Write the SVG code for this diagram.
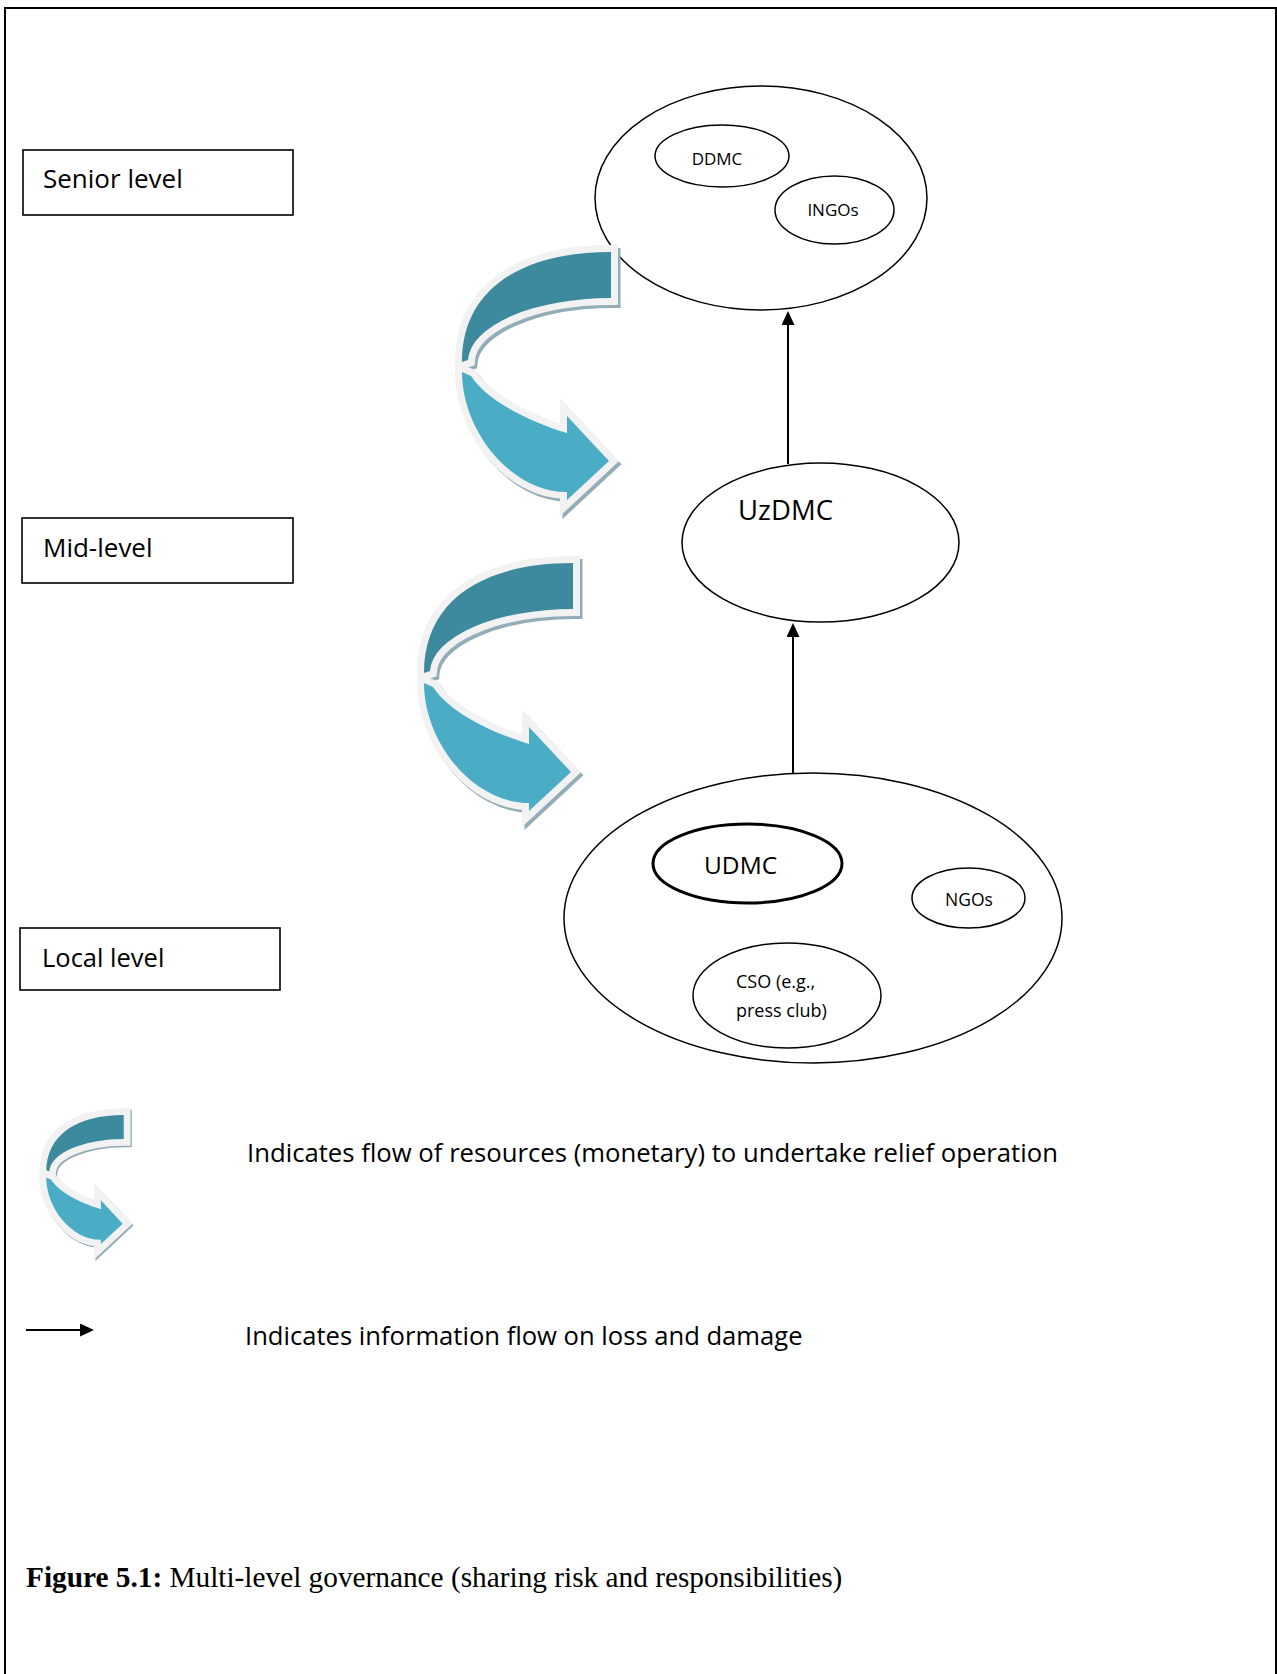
<svg xmlns="http://www.w3.org/2000/svg" xmlns:xlink="http://www.w3.org/1999/xlink" width="1277" height="1674" viewBox="0 0 1277 1674">
<style>
  .box { fill: #fff; stroke: #000; stroke-width: 1.6; }
  .ell { fill: #fff; stroke: #000; stroke-width: 1.5; }
  .ell-bold { fill: #fff; stroke: #000; stroke-width: 3; }
  .lbl { font-family: "Open Sans", "Noto Sans", sans-serif; fill: #000; }
  .conn { stroke: #000; stroke-width: 2; fill: none; }
  .cap { font-family: "Liberation Serif", "Times New Roman", serif; font-size: 29.3px; fill: #000; }
  .shadow { fill: #93ADB8; stroke: #93ADB8; }
  .dark { fill: #3D8A9F; stroke: #F2F2F2; paint-order: stroke; }
  .light { fill: #4BACC6; stroke: #F2F2F2; paint-order: stroke; }
</style>
<defs>
  <marker id="ah" markerUnits="userSpaceOnUse" markerWidth="16" markerHeight="14" refX="6" refY="6.5" orient="auto">
    <path d="M0,0 L14,6.5 L0,13 Z" fill="#000"/>
  </marker>
  <path id="darkBand" d="M611,252 C520,252 462,290 462,362 L468,360 A143,64 0 0 1 611,298 Z"/>
  <path id="lightBand" d="M462,372 C462,430 510,492 567,492 L567,500 L609,461 L567,416 L567,433 C540,425 490,405 471,376 Z"/>
  <g id="curvedArrow">
    <use xlink:href="#darkBand" href="#darkBand" class="shadow" transform="translate(2.5,3)"/>
    <use xlink:href="#darkBand" href="#darkBand" class="dark"/>
    <use xlink:href="#lightBand" href="#lightBand" class="shadow" transform="translate(2.5,3)"/>
    <use xlink:href="#lightBand" href="#lightBand" class="light"/>
  </g>
</defs>
<rect x="0" y="0" width="1277" height="1674" fill="#fff"/>
<rect id="frame" x="5" y="8" width="1271" height="1700" fill="none" stroke="#000" stroke-width="2"/>

<g id="senior-level">
  <rect class="box" x="23" y="150" width="270" height="65"/>
  <text class="lbl" x="43" y="188" font-size="26">Senior level</text>
</g>
<g id="mid-level">
  <rect class="box" x="22" y="518" width="271" height="65"/>
  <text class="lbl" x="43" y="557" font-size="26">Mid-level</text>
</g>
<g id="local-level">
  <rect class="box" x="20" y="928" width="260" height="62"/>
  <text class="lbl" x="42" y="967" font-size="25.5">Local level</text>
</g>

<g id="senior-cluster">
  <ellipse class="ell" cx="761" cy="198" rx="166" ry="112"/>
  <g id="ddmc">
    <ellipse class="ell" cx="722" cy="156" rx="67" ry="31"/>
    <text class="lbl" x="717" y="165" font-size="17" text-anchor="middle">DDMC</text>
  </g>
  <g id="ingos">
    <ellipse class="ell" cx="834.5" cy="210" rx="59.5" ry="34"/>
    <text class="lbl" x="833" y="216" font-size="17" text-anchor="middle">INGOs</text>
  </g>
</g>

<g id="uzdmc">
  <ellipse class="ell" cx="820.5" cy="542.5" rx="138.5" ry="79.5"/>
  <text class="lbl" x="738" y="520" font-size="27.5">UzDMC</text>
</g>

<g id="local-cluster">
  <ellipse class="ell" cx="813" cy="918" rx="249" ry="145"/>
  <g id="udmc">
    <ellipse class="ell-bold" cx="747.5" cy="863.5" rx="94.5" ry="39.5"/>
    <text class="lbl" x="704" y="874" font-size="24.5">UDMC</text>
  </g>
  <g id="ngos">
    <ellipse class="ell" cx="968.5" cy="898" rx="56.5" ry="30"/>
    <text class="lbl" x="945" y="906" font-size="17.5">NGOs</text>
  </g>
  <g id="cso">
    <ellipse class="ell" cx="787" cy="995.5" rx="94" ry="52.5"/>
    <text class="lbl" x="736" y="988" font-size="18">CSO (e.g.,</text>
    <text class="lbl" x="736" y="1017" font-size="18">press club)</text>
  </g>
</g>

<g id="resource-flows">
  <use xlink:href="#curvedArrow" href="#curvedArrow" stroke-width="14"/>
  <use xlink:href="#curvedArrow" href="#curvedArrow" stroke-width="14" transform="translate(-38,311)"/>
</g>

<g id="connectors">
  <line class="conn" x1="788" y1="464" x2="788" y2="319" marker-end="url(#ah)"/>
  <line class="conn" x1="793" y1="773" x2="793" y2="631" marker-end="url(#ah)"/>
</g>

<g id="legend">
  <use xlink:href="#curvedArrow" href="#curvedArrow" stroke-width="26" transform="translate(-194,984) scale(0.52)"/>
  <text class="lbl" x="247" y="1162" font-size="25.7">Indicates flow of resources (monetary) to undertake relief operation</text>
  <line class="conn" x1="26" y1="1330" x2="86" y2="1330" marker-end="url(#ah)"/>
  <text class="lbl" x="245" y="1345" font-size="25.6">Indicates information flow on loss and damage</text>
</g>

<g id="caption">
  <text class="cap" x="26" y="1587"><tspan font-weight="bold">Figure 5.1:</tspan> Multi-level governance (sharing risk and responsibilities)</text>
</g>
</svg>
